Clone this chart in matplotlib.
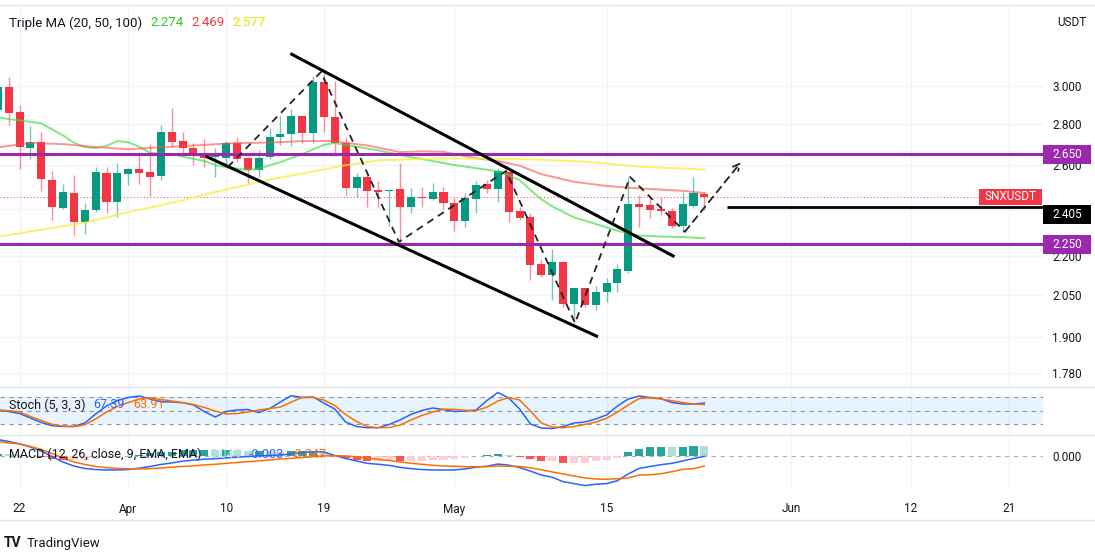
import matplotlib
matplotlib.use("Agg")
import matplotlib.pyplot as plt
from matplotlib.lines import Line2D
from matplotlib.patches import Rectangle
from matplotlib.ticker import NullLocator
import pandas as pd

plt.rcParams['font.family'] = ['Roboto', 'DejaVu Sans']

W, H = 1095, 553
def fx(px): return px / W
def fy(py): return 1 - py / H

# ---- daily candles SNX/USDT, 20 Mar -> 24 May 2023 ----
dates = pd.date_range("2023-03-20", "2023-05-24", freq="D")
opens = [2.872, 2.995, 2.862, 2.680, 2.709, 2.528, 2.403, 2.470, 2.343, 2.394,
         2.561, 2.429, 2.556, 2.580, 2.566, 2.547, 2.759, 2.714, 2.680, 2.651,
         2.637, 2.632, 2.704, 2.632, 2.575, 2.637, 2.734, 2.749, 2.841, 2.754,
         3.022, 2.836, 2.704, 2.492, 2.542, 2.483, 2.479, 2.488, 2.407, 2.452,
         2.443, 2.474, 2.425, 2.347, 2.443, 2.510, 2.488, 2.566, 2.390, 2.364,
         2.170, 2.127, 2.178, 2.018, 2.078, 2.014, 2.062, 2.096, 2.142, 2.420,
         2.416, 2.398, 2.390, 2.326, 2.411, 2.465]
highs = [3.030, 3.050, 2.898, 2.789, 2.759, 2.570, 2.510, 2.552, 2.425, 2.589,
         2.589, 2.608, 2.584, 2.660, 2.699, 2.795, 2.883, 2.759, 2.704, 2.724,
         2.680, 2.714, 2.734, 2.637, 2.670, 2.779, 2.841, 2.877, 2.841, 3.055,
         3.088, 3.028, 2.734, 2.561, 2.556, 2.524, 2.483, 2.608, 2.492, 2.497,
         2.515, 2.497, 2.447, 2.470, 2.524, 2.528, 2.584, 2.566, 2.407, 2.381,
         2.190, 2.230, 2.178, 2.078, 2.078, 2.085, 2.115, 2.170, 2.542, 2.461,
         2.452, 2.452, 2.403, 2.474, 2.542, 2.474]
lows = [2.846, 2.795, 2.580, 2.627, 2.479, 2.351, 2.398, 2.288, 2.292, 2.385,
        2.381, 2.364, 2.505, 2.510, 2.456, 2.528, 2.685, 2.641, 2.599, 2.589,
        2.542, 2.584, 2.613, 2.515, 2.542, 2.627, 2.694, 2.690, 2.704, 2.704,
        2.759, 2.656, 2.456, 2.452, 2.407, 2.407, 2.326, 2.255, 2.381, 2.407,
        2.438, 2.398, 2.305, 2.322, 2.381, 2.470, 2.429, 2.343, 2.351, 2.108,
        2.119, 2.032, 2.007, 1.949, 2.007, 1.996, 2.025, 2.062, 2.134, 2.322,
        2.360, 2.373, 2.318, 2.301, 2.403, 2.394]
closes = [2.995, 2.856, 2.685, 2.709, 2.533, 2.407, 2.474, 2.343, 2.394, 2.566,
          2.429, 2.561, 2.580, 2.561, 2.542, 2.759, 2.709, 2.680, 2.646, 2.632,
          2.641, 2.704, 2.627, 2.575, 2.632, 2.734, 2.749, 2.841, 2.754, 3.022,
          2.836, 2.704, 2.492, 2.542, 2.479, 2.474, 2.483, 2.407, 2.452, 2.447,
          2.474, 2.425, 2.347, 2.447, 2.506, 2.488, 2.570, 2.385, 2.360, 2.166,
          2.127, 2.178, 2.018, 2.078, 2.014, 2.062, 2.096, 2.150, 2.420, 2.407,
          2.394, 2.390, 2.326, 2.420, 2.470, 2.452]

# ---- moving averages, sampled at candle index ----
ma20_at = [0, 4, 5, 6, 7, 8, 9, 10, 11, 12, 13, 14, 16, 17, 19, 20, 21, 23, 24, 26,
           28, 29, 30, 31, 33, 35, 38, 42, 45, 46, 47, 48, 49, 50, 51, 53, 55, 57,
           59, 61, 63, 65]
ma20 = [2.832, 2.803, 2.772, 2.742, 2.706, 2.684, 2.680, 2.690, 2.714, 2.708, 2.686,
        2.656, 2.650, 2.638, 2.617, 2.598, 2.588, 2.575, 2.581, 2.612, 2.650, 2.673,
        2.695, 2.704, 2.686, 2.668, 2.636, 2.598, 2.576, 2.568, 2.550, 2.528, 2.483,
        2.441, 2.410, 2.362, 2.334, 2.305, 2.285, 2.281, 2.279, 2.274]
ma50_at = [0, 3, 6, 9, 12, 16, 19, 22, 25, 28, 31, 32, 34, 37, 39, 41, 44, 46, 48,
           49, 50, 53, 56, 59, 63, 65]
ma50 = [2.683, 2.704, 2.699, 2.684, 2.674, 2.686, 2.695, 2.704, 2.706, 2.714, 2.714,
        2.705, 2.692, 2.660, 2.664, 2.661, 2.630, 2.617, 2.595, 2.575, 2.555, 2.520,
        2.501, 2.490, 2.479, 2.469]
ma100_at = [0, 8, 12, 17, 19, 25, 32, 35, 41, 49, 54, 59, 65]
ma100 = [2.280, 2.339, 2.384, 2.436, 2.462, 2.530, 2.597, 2.620, 2.630, 2.625,
         2.614, 2.590, 2.577]

# ---- stochastic (5, 3, 3) ----
stoch_k = [51.8, 48.4, 44.0, 34.0, 24.0, 16.9, 15.1, 15.6, 22.9, 42.9,
           60.7, 72.9, 79.6, 82.9, 76.2, 70.2, 69.6, 68.0, 62.9, 48.4,
           36.2, 48.4, 51.8, 52.9, 46.2, 55.1, 69.6, 83.6, 79.6, 80.7,
           67.3, 54.0, 25.1, 15.1, 12.5, 12.5, 19.6, 29.6, 41.8, 50.7,
           56.2, 52.9, 48.4, 49.6, 51.8, 72.9, 90.7, 78.4, 54.0, 20.7,
           11.8, 10.7, 15.1, 22.9, 25.1, 31.8, 40.7, 60.7, 76.2, 82.9,
           79.6, 76.9, 68.4, 65.1, 65.1, 67.39]
stoch_d = [51.8, 50.2, 47.8, 37.3, 28.4, 20.0, 16.2, 14.7, 18.9, 31.8,
           47.3, 59.6, 68.4, 76.2, 78.9, 75.1, 71.8, 68.0, 64.0, 57.3,
           49.6, 42.9, 44.0, 47.3, 51.8, 55.1, 58.4, 69.6, 79.6, 79.6,
           74.0, 61.8, 41.8, 26.2, 15.1, 12.5, 12.9, 18.4, 29.6, 39.6,
           47.3, 53.6, 53.3, 51.1, 50.2, 58.4, 71.8, 79.6, 74.0, 49.6,
           22.9, 14.0, 12.5, 15.1, 19.6, 25.1, 33.3, 47.3, 62.9, 77.3,
           78.9, 76.2, 72.4, 68.4, 65.1, 63.91]

# ---- MACD (12, 26, 9) ----
macd = [0.0735, 0.0645, 0.054, 0.0395, 0.021, -0.004, -0.029, -0.047, -0.058, -0.063,
        -0.065, -0.065, -0.063, -0.057, -0.049, -0.040, -0.033, -0.025, -0.020, -0.016,
        -0.014, -0.010, -0.007, -0.004, -0.001, 0.001, 0.003, 0.008, 0.014, 0.018,
        0.017, 0.001, -0.013, -0.024, -0.035, -0.039, -0.044, -0.053, -0.059, -0.063,
        -0.065, -0.065, -0.065, -0.060, -0.052, -0.048, -0.038, -0.043, -0.054, -0.070,
        -0.088, -0.098, -0.118, -0.127, -0.136, -0.130, -0.127, -0.114, -0.083, -0.058,
        -0.049, -0.041, -0.035, -0.024, -0.013, -0.003]
signal = [0.0645, 0.0577, 0.0531, 0.0418, 0.0281, 0.010, -0.0104, -0.0286, -0.040, -0.049,
          -0.0545, -0.058, -0.060, -0.060, -0.059, -0.056, -0.052, -0.049, -0.046, -0.042,
          -0.039, -0.035, -0.031, -0.027, -0.024, -0.0195, -0.015, -0.012, -0.008, -0.0045,
          -0.0014, 0.0, -0.0014, -0.005, -0.0104, -0.017, -0.022, -0.0286, -0.0345, -0.039,
          -0.0436, -0.0468, -0.048, -0.050, -0.050, -0.050, -0.047, -0.048, -0.049, -0.055,
          -0.064, -0.074, -0.083, -0.092, -0.101, -0.106, -0.107, -0.105, -0.101, -0.088,
          -0.087, -0.082, -0.073, -0.062, -0.059, -0.047]
hist = [0.009, 0.007, 0.001, -0.002, -0.007, -0.014, -0.019, -0.018, -0.018, -0.014,
        -0.011, -0.007, -0.003, 0.003, 0.010, 0.016, 0.019, 0.024, 0.026, 0.026,
        0.025, 0.025, 0.024, 0.023, 0.023, 0.020, 0.018, 0.020, 0.022, 0.023,
        0.018, 0.001, -0.012, -0.019, -0.025, -0.022, -0.022, -0.024, -0.024, -0.024,
        -0.021, -0.018, -0.017, -0.010, -0.002, 0.002, 0.009, 0.005, -0.005, -0.015,
        -0.024, -0.024, -0.035, -0.035, -0.035, -0.024, -0.020, -0.009, 0.018, 0.030,
        0.038, 0.041, 0.038, 0.038, 0.046, 0.044]

# ---- drawings ----
levels = [2.650, 2.250]
target_level = 2.405
target_from = "2023-05-26 02:00"
upper_x = ["2023-04-16 01:00", "2023-05-21 03:00"]
upper_y = [3.178, 2.202]
lower_x = ["2023-04-08 06:00", "2023-05-14 02:00"]
lower_y = [2.637, 1.903]
zz_x = ["2023-04-10 04:00", "2023-04-18 17:30", "2023-04-25 21:30", "2023-05-05 18:00",
        "2023-05-12 02:30", "2023-05-17 04:00", "2023-05-22 05:00", "2023-05-27 09:00"]
zz_y = [2.589, 3.077, 2.259, 2.570, 1.949, 2.542, 2.301, 2.612]

price_ticks = [3.0, 2.8, 2.6, 2.4, 2.2, 2.05, 1.9, 1.78]
price_labels = ["3.000", "2.800", "2.600", "2.400", "2.200", "2.050", "1.900", "1.780"]
tick_dates = ["2023-03-22", "2023-04-01", "2023-04-10", "2023-04-19", "2023-05-01",
              "2023-05-15", "2023-06-01", "2023-06-12", "2023-06-21"]
tick_labels = ["22", "Apr", "10", "19", "May", "15", "Jun", "12", "21"]

UP, DOWN = '#089981', '#F23645'
TXT = '#131722'
GRID = '#F0F3FA'
LINE = '#E0E3EB'

fig = plt.figure(figsize=(W / 100, H / 100), dpi=100)
ax = fig.add_axes([0, fy(386), fx(1043), fy(5) - fy(386)])
ax_st = fig.add_axes([0, fy(434), fx(1043), fy(387) - fy(434)])
ax_md = fig.add_axes([0, fy(490), fx(1043), fy(435) - fy(490)])

xmin, xmax = pd.Timestamp("2023-03-20 04:50"), pd.Timestamp("2023-06-24 03:40")
tdates = pd.to_datetime(tick_dates)
for a in (ax, ax_st, ax_md):
    for s in a.spines.values():
        s.set_visible(False)
    a.set_xlim(xmin, xmax)
    a.set_xticks(tdates)
    a.grid(axis='x', color=GRID, lw=1)
    a.set_axisbelow(True)
    a.tick_params(axis='x', length=0, labelbottom=False)
    a.tick_params(axis='y', which='both', length=0, left=False, labelleft=False,
                  right=False, labelright=True, pad=6.5, labelsize=8.5, labelcolor=TXT)
    a.yaxis.set_label_position('right')

# main pane
ax.set_yscale('log')
ax.set_ylim(1.738, 3.476)
ax.set_yticks(price_ticks)
ax.set_yticklabels(price_labels)
ax.yaxis.set_minor_locator(NullLocator())
ax.grid(axis='y', color=GRID, lw=1)

for t, o, h, l, c in zip(dates, opens, highs, lows, closes):
    col = UP if c >= o else DOWN
    ax.vlines(t, l, h, color=col, lw=1, alpha=0.55, zorder=2)
    ax.bar(t, max(abs(c - o), 0.004), bottom=min(o, c), width=0.74, color=col, lw=0, zorder=3)

ax.plot(dates[ma20_at], ma20, color='#3ddc3d', lw=1.4, alpha=0.65, zorder=4)
ax.plot(dates[ma50_at], ma50, color='#ff4d4d', lw=1.4, alpha=0.6, zorder=4)
ax.plot(dates[ma100_at], ma100, color='#f5f03a', lw=1.4, alpha=0.75, zorder=4)

for lv in levels:
    ax.axhline(lv, color='#9C27B0', lw=2.2, zorder=5)
ax.axhline(closes[-1], color=DOWN, lw=0.8, ls=(0, (1, 2)), alpha=0.8, zorder=1)
ax.hlines(target_level, pd.Timestamp(target_from), xmax, color='black', lw=2, zorder=5)

ax.plot(pd.to_datetime(upper_x), upper_y, color='black', lw=2.2, zorder=6)
ax.plot(pd.to_datetime(lower_x), lower_y, color='black', lw=2.2, zorder=6)
zx = pd.to_datetime(zz_x)
ax.plot(zx[:-1], zz_y[:-1], color='#222222', lw=1.3, ls=(0, (4, 3)), zorder=6)
ax.annotate('', xy=(zx[-1], zz_y[-1]), xytext=(zx[-2], zz_y[-2]),
            arrowprops=dict(arrowstyle='->', color='#222222', lw=1.3, ls=(0, (4, 3)),
                            shrinkA=0, shrinkB=0, mutation_scale=12), zorder=6)

# stochastic pane
ax_st.set_ylim(-1.5, 102.9)
ax_st.set_yticks([])
ax_st.axhspan(20, 80, color='#2196F3', alpha=0.1, lw=0)
for lv in (80, 50, 20):
    ax_st.axhline(lv, color='#787B86', lw=0.8, ls=(0, (4, 4)), alpha=0.8)
ax_st.plot(dates, stoch_k, color='#2962FF', lw=1.1)
ax_st.plot(dates, stoch_d, color='#FF6D00', lw=1.1)

# MACD pane
ax_md.set_ylim(-0.156, 0.094)
ax_md.set_yticks([0])
ax_md.set_yticklabels(["0.000"])
hcols = []
for i, hv in enumerate(hist):
    prev = hist[i - 1] if i > 0 else hv
    if hv >= 0:
        hcols.append('#26A69A' if hv >= prev else '#B2DFDB')
    else:
        hcols.append('#FF5252' if hv < prev else '#FFCDD2')
ax_md.bar(dates, hist, width=0.74, color=hcols, lw=0, zorder=2)
ax_md.axhline(0, color='#787B86', lw=0.8, ls=(0, (4, 4)), alpha=0.6, zorder=1)
ax_md.plot(dates, macd, color='#2962FF', lw=1.1, zorder=3)
ax_md.plot(dates, signal, color='#FF6D00', lw=1.1, zorder=3)
ax_md.tick_params(axis='x', labelbottom=True, pad=9, labelsize=8.5, labelcolor=TXT)
ax_md.set_xticklabels(tick_labels)

# frame lines
for py in (5, 386.5, 434.5, 520):
    fig.add_artist(Line2D([0, 1], [fy(py), fy(py)], color=LINE, lw=1))

# legends
def legend_row(py, parts, size=9):
    x = 9
    r = fig.canvas.get_renderer()
    for txt, col in parts:
        t = fig.text(fx(x), fy(py), txt, color=col, fontsize=size, va='center', ha='left')
        x += t.get_window_extent(r).width + 8

legend_row(23, [("Triple MA (20, 50, 100)", TXT), ("2.274", '#22d022'),
                ("2.469", '#f23645'), ("2.577", '#e6e600')], size=9.5)
legend_row(405, [("Stoch (5, 3, 3)", TXT), ("67.39", '#2962FF'), ("63.91", '#FF6D00')])
legend_row(454, [("MACD (12, 26, close, 9, EMA, EMA)", TXT), ("0.044", '#B2DFDB'),
                 ("-0.003", '#2962FF'), ("-0.047", '#FF6D00')])

fig.text(fx(1086), fy(22), "USDT", color=TXT, fontsize=8.5, ha='right', va='center')

# price scale badges
def badge(price, text, color, dy=0):
    y = ax.transData.transform((0, price))[1] + dy
    fig.add_artist(Rectangle((fx(1043), (y - 9.5) / H), fx(48), 19 / H,
                             transform=fig.transFigure, fc=color, ec='none'))
    fig.text(fx(1067), y / H, text, color='white', fontsize=8.5, ha='center', va='center')

badge(2.650, "2.650", '#9C27B0')
badge(2.250, "2.250", '#9C27B0')
badge(target_level, "2.405", '#000000', dy=-7)

yl = ax.transData.transform((0, closes[-1]))[1]
fig.add_artist(Rectangle((fx(979), (yl - 8) / H), fx(63), 16 / H,
                         transform=fig.transFigure, fc=DOWN, ec='none'))
fig.text(fx(1010.5), yl / H, "SNXUSDT", color='white', fontsize=8.5, ha='center', va='center')

# footer
fig.text(fx(4), fy(543), "TV", color=TXT, fontsize=10, fontweight='bold', va='center')
fig.text(fx(27), fy(543), "TradingView", color=TXT, fontsize=9.5, va='center')

fig.savefig("out.png", dpi=100)
